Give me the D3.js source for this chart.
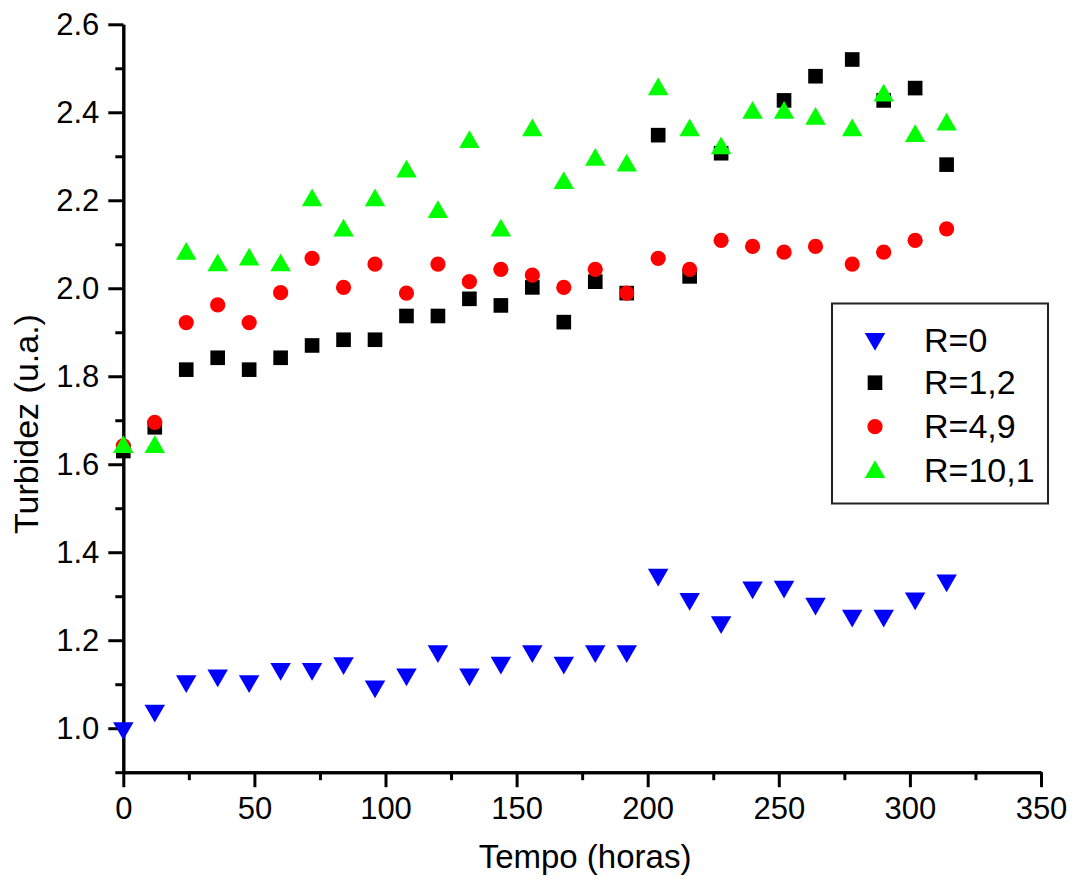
<!DOCTYPE html>
<html>
<head>
<meta charset="utf-8">
<script src="https://cdn.jsdelivr.net/npm/d3@7"></script>
<style>
  html, body { margin: 0; padding: 0; background: #fff; }
  svg { display: block; }
  text { font-family: Arial, "Liberation Sans", sans-serif; fill: #000; }
</style>
</head>
<body>
<svg id="chart" width="1074" height="882"></svg>
<script>
// ---- data ----
const tempo = [0, 12, 24, 36, 48, 60, 72, 84, 96, 108, 120, 132, 144, 156, 168, 180, 192, 204, 216, 228, 240, 252, 264, 278, 290, 302, 314];
const r0   = [1.00, 1.04, 1.107, 1.12, 1.107, 1.135, 1.135, 1.148, 1.095, 1.122, 1.175, 1.122, 1.149, 1.175, 1.149, 1.175, 1.175, 1.349, 1.294, 1.241, 1.32, 1.322, 1.283, 1.256, 1.256, 1.295, 1.336];
const r12  = [1.63, 1.684, 1.815, 1.842, 1.815, 1.842, 1.87, 1.883, 1.883, 1.937, 1.937, 1.976, 1.961, 2.002, 1.923, 2.015, 1.989, 2.348, 2.027, 2.307, null, 2.427, 2.482, 2.52, 2.427, 2.455, 2.281];
const r49  = [1.642, 1.695, 1.922, 1.962, 1.922, 1.99, 2.068, 2.002, 2.055, 1.989, 2.055, 2.015, 2.043, 2.03, 2.002, 2.043, 1.989, 2.068, 2.043, 2.109, 2.095, 2.082, 2.095, 2.055, 2.082, 2.109, 2.135];
const r101 = [1.639, 1.639, 2.078, 2.052, 2.065, 2.052, 2.2, 2.131, 2.2, 2.265, 2.173, 2.332, 2.131, 2.359, 2.239, 2.292, 2.279, 2.452, 2.359, 2.318, 2.399, 2.399, 2.385, 2.359, 2.438, 2.346, 2.372];
const seriesNames = ["R=0", "R=1,2", "R=4,9", "R=10,1"];
const xMajorTicks = [0, 50, 100, 150, 200, 250, 300, 350];
const xMinorTicks = [25, 75, 125, 175, 225, 275, 325];
const yMajorTicks = [1.0, 1.2, 1.4, 1.6, 1.8, 2.0, 2.2, 2.4, 2.6];
const yMinorTicks = [0.9, 1.1, 1.3, 1.5, 1.7, 1.9, 2.1, 2.3, 2.5];
const xTitle = "Tempo (horas)";
const yTitle = "Turbidez (u.a.)";

// ---- layout ----
const svg = d3.select("#chart");
const x = d3.scaleLinear().domain([0, 350]).range([123.3, 1041]);
const y = d3.scaleLinear().domain([0.9, 2.6]).range([772.2, 24.3]);

const series = [
  { name: seriesNames[0], vals: r0,   color: "#0000ff", shape: "tdown" },
  { name: seriesNames[1], vals: r12,  color: "#000000", shape: "square" },
  { name: seriesNames[2], vals: r49,  color: "#ff0000", shape: "circle" },
  { name: seriesNames[3], vals: r101, color: "#00ff00", shape: "tup" }
];

const symPath = {
  tdown: d3.symbol(d3.symbolTriangle, 182)(),
  tup: d3.symbol(d3.symbolTriangle, 182)(),
  square: d3.symbol(d3.symbolSquare, 214)(),
  circle: d3.symbol(d3.symbolCircle, 182)()
};
function symTransform(shape, cx, cy) {
  return `translate(${cx},${cy})` + (shape === "tdown" ? " rotate(180)" : "");
}

// ---- axes ----
const axisStroke = 3;
function styleAxis(g) {
  g.selectAll("path.domain").attr("stroke", "#000").attr("stroke-width", axisStroke);
  g.selectAll(".tick line").attr("stroke", "#000").attr("stroke-width", axisStroke);
  g.selectAll(".tick text").style("font-size", "31px").style("font-family", "Arial, 'Liberation Sans', sans-serif").attr("fill", "#000");
}

const gxMinor = svg.append("g").attr("transform", `translate(0,${y(0.9)})`)
  .call(d3.axisBottom(x).tickValues(xMinorTicks).tickSize(8).tickSizeOuter(0).tickFormat(""));
styleAxis(gxMinor);
const gx = svg.append("g").attr("transform", `translate(0,${y(0.9)})`)
  .call(d3.axisBottom(x).tickValues(xMajorTicks).tickSize(15).tickSizeOuter(0).tickPadding(10).tickFormat(d3.format("d")));
styleAxis(gx);

const gyMinor = svg.append("g").attr("transform", `translate(${x(0)},0)`)
  .call(d3.axisLeft(y).tickValues(yMinorTicks).tickSize(8).tickSizeOuter(0).tickFormat(""));
styleAxis(gyMinor);
const gy = svg.append("g").attr("transform", `translate(${x(0)},0)`)
  .call(d3.axisLeft(y).tickValues(yMajorTicks).tickSize(15).tickSizeOuter(0).tickPadding(9).tickFormat(d3.format(".1f")));
styleAxis(gy);

// ---- titles ----
svg.append("text")
  .attr("x", 585).attr("y", 868)
  .attr("text-anchor", "middle")
  .style("font-size", "33px")
  .text(xTitle);
svg.append("text")
  .attr("transform", "translate(38,424) rotate(-90)")
  .attr("text-anchor", "middle")
  .style("font-size", "34px")
  .text(yTitle);

// ---- points ----
series.forEach(s => {
  svg.append("g").selectAll("path")
    .data(tempo.map((t, i) => ({ t, v: s.vals[i] })).filter(d => d.v != null))
    .join("path")
    .attr("d", symPath[s.shape])
    .attr("transform", d => symTransform(s.shape, x(d.t), y(d.v)))
    .attr("fill", s.color);
});

// ---- legend ----
const lg = svg.append("g");
lg.append("rect")
  .attr("x", 832).attr("y", 303.5).attr("width", 216).attr("height", 200)
  .attr("fill", "#fff").attr("stroke", "#222").attr("stroke-width", 2);
const rowSym = [339, 382.7, 426.7, 472];
const rowText = [351.5, 394, 437.7, 482];
series.forEach((s, i) => {
  lg.append("path")
    .attr("d", symPath[s.shape])
    .attr("transform", symTransform(s.shape, 875, rowSym[i]))
    .attr("fill", s.color);
  lg.append("text")
    .attr("x", 924).attr("y", rowText[i])
    .style("font-size", "34px")
    .text(s.name);
});
</script>
</body>
</html>
